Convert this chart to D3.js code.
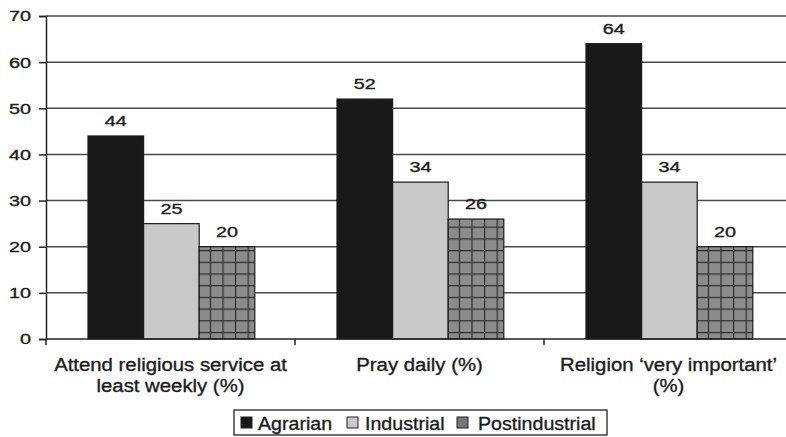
<!DOCTYPE html>
<html>
<head>
<meta charset="utf-8">
<script src="https://cdn.jsdelivr.net/npm/d3@7"></script>
<style>
  body { margin: 0; background: #fff; }
  svg text { font-family: "Liberation Sans", Arial, sans-serif; fill: #1c1c1c; stroke: #1c1c1c; stroke-width: 0.35px; }
</style>
</head>
<body>
<svg id="chart"></svg>
<script>
// chart data
var categories = [
  ["Attend religious service at", "least weekly (%)"],
  ["Pray daily (%)"],
  ["Religion \u2018very important\u2019", "(%)"]
];
var seriesNames = ["Agrarian", "Industrial", "Postindustrial"];
var agrarian = [44, 52, 64];
var industrial = [25, 34, 34];
var postindustrial = [20, 26, 20];
var yTicks = [0, 10, 20, 30, 40, 50, 60, 70];

var seriesValues = [agrarian, industrial, postindustrial];

var W = 786, H = 437;
var margin = {top: 16, right: -7, bottom: 98, left: 46},
    width = W - margin.left - margin.right,
    height = H - margin.top - margin.bottom;

// the scanned text is a bit stretched sideways
var numStretch = 1.28, txtStretch = 1.13;

var svg = d3.select("#chart")
    .attr("width", W)
    .attr("height", H);

var defs = svg.append("defs");
var pat = defs.append("pattern")
    .attr("id", "grid")
    .attr("patternUnits", "userSpaceOnUse")
    .attr("width", 12.6)
    .attr("height", 11.7);
pat.append("rect").attr("width", 12.6).attr("height", 11.7).attr("fill", "#8c8c8c");
pat.append("path").attr("d", "M0,0V11.7M0,0H12.6")
    .attr("stroke", "#2e2e2e").attr("stroke-width", 2.4).attr("fill", "none");

var fills = ["#191919", "#c9c9c9", "url(#grid)"];

var g = svg.append("g")
    .attr("transform", "translate(" + margin.left + "," + margin.top + ")");

var x0 = d3.scaleBand()
    .domain(d3.range(categories.length))
    .range([0, width]);

var x1 = d3.scaleBand()
    .domain(d3.range(seriesNames.length))
    .range([42, 42 + 3 * 55.6]);

var y = d3.scaleLinear()
    .domain([0, 70])
    .range([height, 0]);

// gridlines
g.selectAll(".gridline")
  .data(yTicks.slice(1))
  .enter().append("line")
    .attr("x1", 0).attr("x2", width)
    .attr("y1", function(d) { return y(d); })
    .attr("y2", function(d) { return y(d); })
    .attr("stroke", "#4a4a4a")
    .attr("stroke-width", 1.5);

// bars
var groups = g.selectAll(".cat")
  .data(categories)
  .enter().append("g")
    .attr("transform", function(d, i) { return "translate(" + x0(i) + ",0)"; });

groups.each(function(c, ci) {
  var sel = d3.select(this);
  seriesValues.forEach(function(vals, si) {
    sel.append("rect")
      .attr("x", x1(si))
      .attr("y", y(vals[ci]))
      .attr("width", x1.bandwidth())
      .attr("height", height - y(vals[ci]))
      .attr("fill", fills[si])
      .attr("stroke", "#1a1a1a")
      .attr("stroke-width", 1.2);
    sel.append("text")
      .attr("transform", "translate(" + (x1(si) + x1.bandwidth() / 2) + "," + (y(vals[ci]) - 10) + ") scale(" + numStretch + ",1)")
      .attr("text-anchor", "middle")
      .attr("font-size", "15.5px")
      .text(vals[ci]);
  });
});

// y axis
var yAxis = d3.axisLeft(y).tickValues(yTicks).tickSize(7).tickPadding(5);
var ya = g.append("g").call(yAxis);
ya.select(".domain").attr("stroke", "#222").attr("stroke-width", 1.5);
ya.selectAll(".tick line").attr("stroke", "#222").attr("stroke-width", 1.5);
ya.selectAll(".tick text")
    .attr("font-size", "15.5px").attr("fill", "#1c1c1c")
    .attr("font-family", "Liberation Sans, Arial, sans-serif")
    .attr("x", -15 / numStretch)
    .attr("transform", "scale(" + numStretch + ",1)");

// x axis
var xa = g.append("g").attr("transform", "translate(0," + height + ")");
xa.append("line").attr("x1", 0).attr("x2", width)
    .attr("stroke", "#222").attr("stroke-width", 1.5);
xa.selectAll(".xtick")
  .data(d3.range(categories.length + 1))
  .enter().append("line")
    .attr("x1", function(i) { return i * x0.bandwidth(); })
    .attr("x2", function(i) { return i * x0.bandwidth(); })
    .attr("y1", 0).attr("y2", 6)
    .attr("stroke", "#222").attr("stroke-width", 1.5);

xa.selectAll(".xlab")
  .data(categories)
  .enter().append("text")
    .attr("text-anchor", "middle")
    .attr("font-size", "18px")
    .attr("transform", function(d, i) { return "translate(" + (x0(i) + x0.bandwidth() / 2) + ",0) scale(" + txtStretch + ",1)"; })
    .each(function(lines) {
      var t = d3.select(this);
      lines.forEach(function(l, li) {
        t.append("tspan").attr("x", 0).attr("y", 32 + li * 21).text(l);
      });
    });

// legend
var leg = svg.append("g").attr("transform", "translate(234,410)");
leg.append("rect").attr("width", 373).attr("height", 25)
    .attr("fill", "#fff").attr("stroke", "#222").attr("stroke-width", 1.3);
var swX = [7, 113, 223], txX = [24, 131, 244];
seriesNames.forEach(function(name, i) {
  leg.append("rect")
    .attr("x", swX[i]).attr("y", 7)
    .attr("width", 11).attr("height", 11)
    .attr("fill", i == 2 ? "#777" : fills[i])
    .attr("stroke", "#222").attr("stroke-width", 1);
  leg.append("text")
    .attr("transform", "translate(" + txX[i] + ",19.5) scale(1.09,1)")
    .attr("font-size", "18px")
    .text(name);
});
</script>
</body>
</html>
